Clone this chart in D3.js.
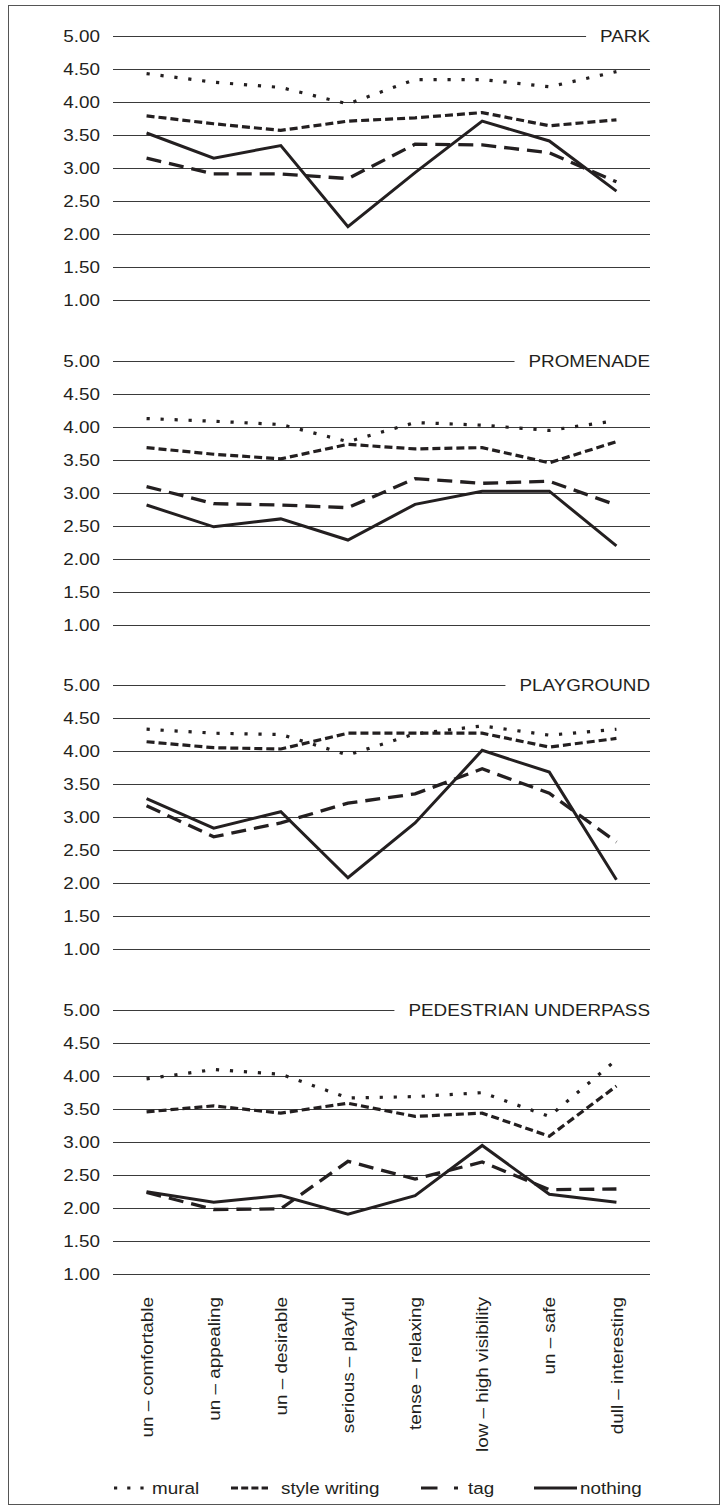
<!DOCTYPE html>
<html>
<head>
<meta charset="utf-8">
<script src="https://cdn.jsdelivr.net/npm/d3@7"></script>
<style>
  html, body { margin: 0; padding: 0; background: #fff; }
  svg { display: block; }
  text { font-family: "Liberation Sans", Arial, Helvetica, sans-serif; fill: #231f20; }
</style>
</head>
<body>
<svg id="chart" width="725" height="1512"></svg>
<script>
// ---- data ----
const categories = ["un \u2013 comfortable", "un \u2013 appealing", "un \u2013 desirable", "serious \u2013 playful",
                    "tense \u2013 relaxing", "low \u2013 high visibility", "un \u2013 safe", "dull \u2013 interesting"];
const panelTitles = ["PARK", "PROMENADE", "PLAYGROUND", "PEDESTRIAN UNDERPASS"];
const seriesNames = ["mural", "style writing", "tag", "nothing"];
const yTicks = [1, 1.5, 2, 2.5, 3, 3.5, 4, 4.5, 5];

const parkMural    = [4.43, 4.30, 4.22, 3.97, 4.34, 4.34, 4.23, 4.46];
const parkStyle    = [3.79, 3.67, 3.57, 3.71, 3.76, 3.84, 3.64, 3.73];
const parkTag      = [3.15, 2.91, 2.91, 2.84, 3.36, 3.35, 3.23, 2.79];
const parkNothing  = [3.53, 3.15, 3.34, 2.11, 2.93, 3.71, 3.41, 2.65];

const promMural    = [4.12, 4.08, 4.03, 3.77, 4.06, 4.02, 3.94, 4.09];
const promStyle    = [3.68, 3.58, 3.51, 3.73, 3.66, 3.68, 3.45, 3.77];
const promTag      = [3.09, 2.83, 2.81, 2.77, 3.21, 3.14, 3.17, 2.81];
const promNothing  = [2.81, 2.48, 2.60, 2.28, 2.82, 3.02, 3.02, 2.19];

const playMural    = [4.33, 4.27, 4.25, 3.94, 4.26, 4.38, 4.24, 4.33];
const playStyle    = [4.14, 4.05, 4.03, 4.27, 4.27, 4.27, 4.06, 4.19];
const playTag      = [3.17, 2.70, 2.91, 3.21, 3.35, 3.73, 3.36, 2.62];
const playNothing  = [3.28, 2.83, 3.08, 2.08, 2.91, 4.01, 3.68, 2.05];

const underMural   = [3.95, 4.09, 4.02, 3.66, 3.68, 3.74, 3.38, 4.24];
const underStyle   = [3.45, 3.54, 3.43, 3.58, 3.38, 3.43, 3.08, 3.84];
const underTag     = [2.23, 1.97, 1.98, 2.70, 2.43, 2.69, 2.27, 2.28];
const underNothing = [2.24, 2.08, 2.18, 1.90, 2.18, 2.94, 2.20, 2.08];

const panelData = [
  [parkMural, parkStyle, parkTag, parkNothing],
  [promMural, promStyle, promTag, promNothing],
  [playMural, playStyle, playTag, playNothing],
  [underMural, underStyle, underTag, underNothing]
];

// ---- styles ----
const INK = "#231f20";
const seriesStyle = {
  "mural":         { width: 3.2, dash: "3.2,10.8" },
  "style writing": { width: 3.2, dash: "8,4" },
  "tag":           { width: 3.3, dash: "15,8" },
  "nothing":       { width: 3.0, dash: null }
};
const SX = 1.11;      // horizontal stretch of the type
const FS = 17;

const svg = d3.select("#chart");

// outer frame
svg.append("rect").attr("x", 8.5).attr("y", 5.5).attr("width", 711).attr("height", 1499)
   .attr("fill", "none").attr("stroke", "#555").attr("stroke-width", 1);

const plotLeft = 113, plotRight = 650;
const x = d3.scalePoint().domain(categories).range([plotLeft, plotRight]).padding(0.5);

function stretchedText(g, tx, ty, str, anchor, rotate) {
  const t = g.append("text")
    .attr("transform", `translate(${tx},${ty})` + (rotate ? ` rotate(${rotate})` : "") + ` scale(${SX},1)`)
    .attr("text-anchor", anchor)
    .attr("font-size", FS)
    .text(str);
  return t;
}

const panelTop0 = 36, panelStep = 324.5, panelH = 264;

panelTitles.forEach((title, pi) => {
  const top = panelTop0 + pi * panelStep;
  const y = d3.scaleLinear().domain([1, 5]).range([top + panelH, top]);
  const g = svg.append("g");

  // title
  const tt = stretchedText(g, plotRight, y(5), title, "end").attr("dy", "0.36em");
  const tw = tt.node().getComputedTextLength() * SX;

  // gridlines
  g.selectAll("line.grid").data(yTicks).join("line")
    .attr("class", "grid")
    .attr("x1", plotLeft)
    .attr("x2", d => d === 5 ? plotRight - tw - 14 : plotRight)
    .attr("y1", d => Math.round(y(d)) + 0.5)
    .attr("y2", d => Math.round(y(d)) + 0.5)
    .attr("stroke", "#3a3a3a").attr("stroke-width", 1.1);

  // tick labels
  yTicks.forEach(v => {
    stretchedText(g, 100, y(v), d3.format(".2f")(v), "end").attr("dy", "0.36em");
  });

  // series
  const line = d3.line().x((d, i) => x(categories[i])).y(d => y(d));
  seriesNames.forEach((name, si) => {
    const st = seriesStyle[name];
    g.append("path")
      .datum(panelData[pi][si])
      .attr("d", line)
      .attr("fill", "none")
      .attr("stroke", INK)
      .attr("stroke-width", st.width)
      .attr("stroke-dasharray", st.dash)
      .attr("stroke-linejoin", "miter");
  });
});

// x-axis category labels (rotated)
const gx = svg.append("g");
categories.forEach(c => {
  stretchedText(gx, x(c), 1297, c, "end", -90).attr("dy", "0.36em");
});

// legend
const legendY = 1488;
const legendItems = [
  { name: "mural",         x1: 114, x2: 147, tx: 152, dash: "3.2,10" },
  { name: "style writing", x1: 231, x2: 268, tx: 281, dash: "7,3.2" },
  { name: "tag",           x1: 421, x2: 458, tx: 468, dash: "16.5,16.5" },
  { name: "nothing",       x1: 534, x2: 577, tx: 580, dash: null }
];
const gl = svg.append("g");
legendItems.forEach(it => {
  gl.append("line")
    .attr("x1", it.x1).attr("x2", it.x2)
    .attr("y1", legendY).attr("y2", legendY)
    .attr("stroke", INK)
    .attr("stroke-width", 3.2)
    .attr("stroke-dasharray", it.dash);
  stretchedText(gl, it.tx, legendY, it.name, "start").attr("dy", "0.36em");
});
</script>
</body>
</html>
